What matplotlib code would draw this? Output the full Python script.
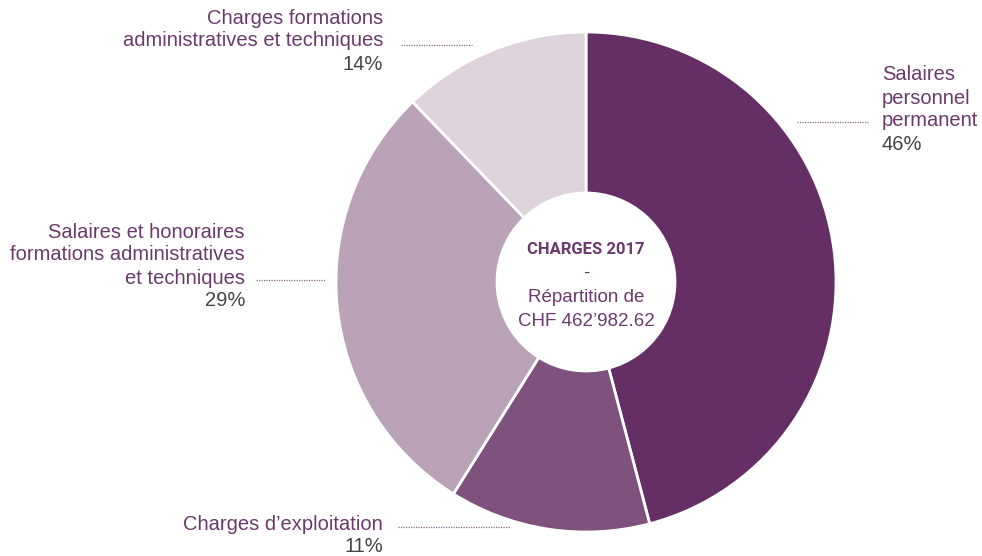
import matplotlib.pyplot as plt

# slice sizes and their printed labels
labels = [['Salaires', 'personnel', 'permanent'],
          ["Charges d\u2019exploitation"],
          ['Salaires et honoraires', 'formations administratives', 'et techniques'],
          ['Charges formations', 'administratives et techniques']]
shares = [45.9, 13.0, 28.9, 12.2]
pct_text = ['46%', '11%', '29%', '14%']
colors = ['#652f66', '#7e527d', '#baa3b8', '#ded3dc']

title_lines = ['CHARGES 2017', '-', 'R\u00e9partition de', 'CHF 462\u2019982.62']

W, H = 982, 556
txt_col = '#6b3a6c'
pct_col = '#444444'
plt.rcParams['font.family'] = ['Liberation Sans', 'DejaVu Sans']


def put_label(ax, x, y0, lines, pct, ha):
    step = 23
    for i, line in enumerate(lines + [pct]):
        col = pct_col if i == len(lines) else txt_col
        ax.text(x, H - (y0 + i * step), line, ha=ha, va='center',
                fontsize=14.5, color=col)


def main():
    fig = plt.figure(figsize=(W / 100, H / 100), dpi=100)
    ax = fig.add_axes([0, 0, 1, 1])

    cx, cy, r = 586, H - 282, 250
    ax.pie(shares, colors=colors, startangle=90, counterclock=False,
           center=(cx, cy), radius=r, frame=True,
           wedgeprops=dict(width=r - 89, edgecolor='white', linewidth=2))

    ax.set_xlim(0, W)
    ax.set_ylim(0, H)
    ax.set_aspect('equal')
    ax.axis('off')

    # centre text
    ax.text(cx, H - 249, title_lines[0], ha='center', va='center', fontsize=12,
            fontweight='bold', color=txt_col,
            family=['Roboto', 'Liberation Sans'])
    for line, y in zip(title_lines[1:], [273, 297, 321]):
        ax.text(cx, H - y, line, ha='center', va='center', fontsize=13.5,
                color=txt_col)

    dot = dict(color='#8a6a8a', lw=0.9, ls=(0, (1, 1)))

    ax.plot([797, 868], [H - 122, H - 122], **dot)
    put_label(ax, 882, 75, labels[0], pct_text[0], 'left')

    ax.plot([398, 510], [H - 527, H - 527], **dot)
    put_label(ax, 383, 524, labels[1], pct_text[1], 'right')

    ax.plot([256, 326], [H - 280, H - 280], **dot)
    put_label(ax, 245, 232, labels[2], pct_text[2], 'right')

    ax.plot([401, 472], [H - 45, H - 45], **dot)
    put_label(ax, 383, 18, labels[3], pct_text[3], 'right')

    fig.savefig('out.png', dpi=100)


if __name__ == '__main__':
    main()
